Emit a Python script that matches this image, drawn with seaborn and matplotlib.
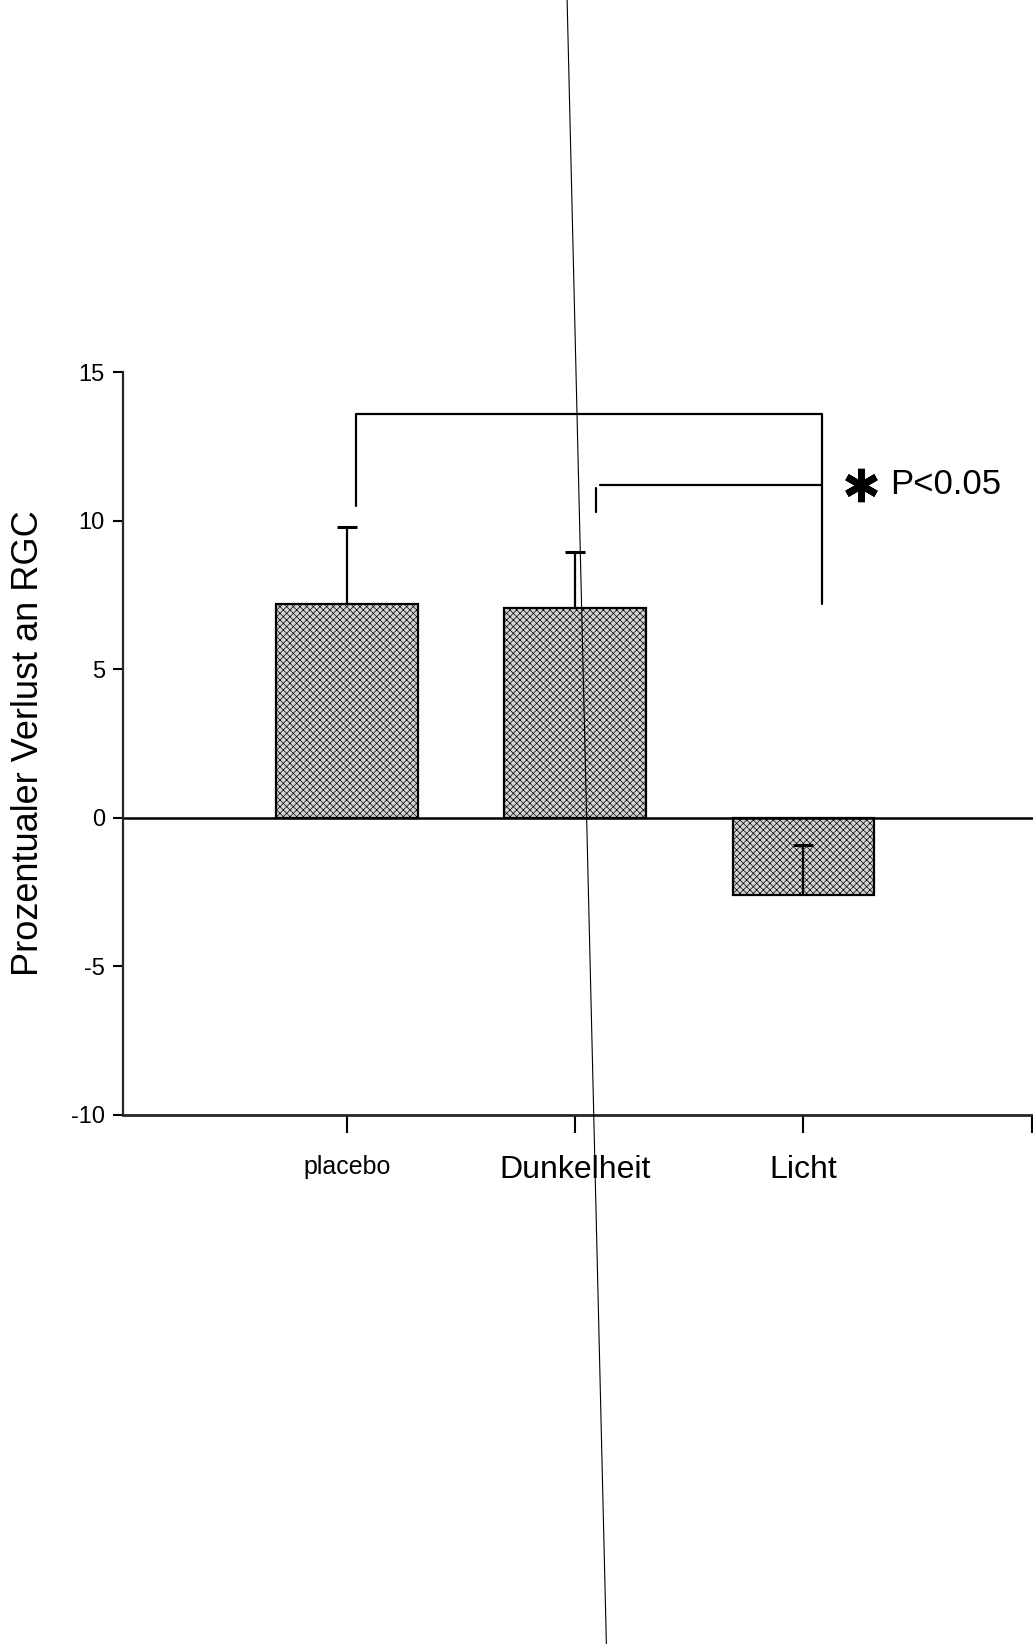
import numpy as np
import pandas as pd
import matplotlib
matplotlib.use("Agg")
import matplotlib.pyplot as plt
import seaborn as sns
from matplotlib.lines import Line2D

# Werte
gruppen = ["placebo", "Dunkelheit", "Licht"]
verlust = [7.2, 7.05, -2.6]
fehler = [2.6, 1.9, 1.7]
label_groesse = [18, 23, 23]

# Signifikanz-Klammern (Höhe, linkes Bein, rechtes Bein)
klammer_oben = [13.6, 10.5, 7.2]
klammer_unten = [11.2, 10.3, 11.2]

df = pd.DataFrame({"Gruppe": gruppen, "Verlust": verlust})

sns.set_style("white")
plt.rcParams["font.family"] = ["Liberation Sans", "DejaVu Sans"]
plt.rcParams["hatch.linewidth"] = 0.5
plt.rcParams["hatch.color"] = "#555555"
plt.rcParams["text.color"] = "black"
plt.rcParams["xtick.color"] = "black"
plt.rcParams["ytick.color"] = "black"
plt.rcParams["axes.labelcolor"] = "black"

fig = plt.figure(figsize=(10.33, 16.44), dpi=100)
ax = fig.add_axes([0.119, 0.3218, 0.881, 0.4519])

sns.barplot(data=df, x="Gruppe", y="Verlust", ax=ax, color="#d4d4d4",
            width=0.62, errorbar=None, edgecolor="black", linewidth=1.6,
            saturation=1)
for b in ax.patches:
    b.set_hatch("xxxxx")

# Fehlerbalken nur in positive Richtung, Kappe nur oben
x = np.arange(len(gruppen))
_, kappen, _ = ax.errorbar(x, verlust, yerr=[np.zeros(len(fehler)), fehler], fmt="none",
                           ecolor="black", elinewidth=1.6, capsize=7, capthick=2.2)
kappen[0].set_visible(False)

ax.axhline(0, color="black", lw=1.8, zorder=1)

# Klammern
lw = 1.6
xl, xm, xr = x[0] + 0.04, x[1] + 0.09, x[2] + 0.08
ax.plot([xl, xl, xr, xr], [klammer_oben[1], klammer_oben[0], klammer_oben[0], klammer_oben[2]],
        color="black", lw=lw)
ax.plot([xm, xm], [klammer_unten[1], klammer_unten[0] - 0.1], color="black", lw=lw)
ax.plot([xm + 0.02, xr], [klammer_unten[0], klammer_unten[2]], color="black", lw=lw)
ax.plot([xr + 0.17], [klammer_unten[0]], marker=(6, 2, 0), ms=24, mew=5, color="black")
ax.text(xr + 0.3, klammer_unten[0], "P<0.05", fontsize=25, va="center", ha="left")

ax.set_xlim(-0.98, 3.005)
ax.set_ylim(-10, 15)
ax.set_yticks([-10, -5, 0, 5, 10, 15])
ax.set_yticklabels(["-10", "-5", "0", "5", "10", "15"], fontsize=17)
ax.set_xticks([0, 1, 2, 3])
ax.set_xticklabels(gruppen + [""])
for t, s in zip(ax.get_xticklabels(), label_groesse + [10]):
    t.set_fontsize(s)
ax.tick_params(axis="y", direction="out", length=7, width=1.5, left=True, pad=6)
ax.tick_params(axis="x", direction="out", length=13, width=1.5, bottom=True, pad=16)
ax.set_xlabel("")
ax.set_ylabel("Prozentualer Verlust an RGC", fontsize=26, labelpad=18)

sns.despine(ax=ax, top=True, right=True)
ax.spines["left"].set_linewidth(1.6)
ax.spines["bottom"].set_linewidth(2.0)

# Knickfalte des Scans
fig.add_artist(Line2D([0.549, 0.587], [1.0, 0.0], color="black", lw=0.8,
                      transform=fig.transFigure))

fig.savefig("out.png", dpi=100, facecolor="white")
